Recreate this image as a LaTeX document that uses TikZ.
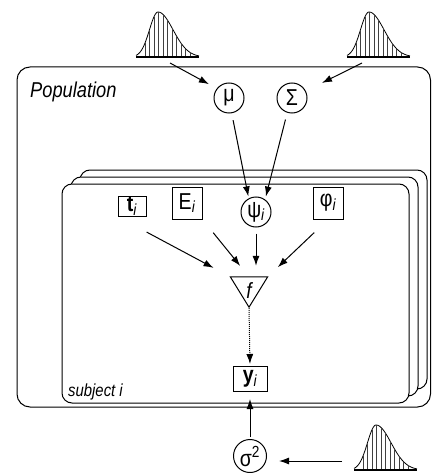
\documentclass[tikz,border=0pt]{standalone}
\usepackage{fontspec}
\setmainfont[FakeStretch=0.85]{Liberation Sans}
\usetikzlibrary{positioning,arrows.meta}
\tikzset{
  declare function={dens(\u)=(\u<22)*45*exp(-0.5*((\u-22)/8.5)^2)+(\u>=22)*45*exp(-0.5*((\u-22)/15)^2);},
  var/.style={draw,circle,line width=1pt,minimum size=30pt,inner sep=0pt,font=\fontsize{23}{26}\selectfont},
  obs/.style={draw,rectangle,line width=1pt,inner sep=0pt,font=\fontsize{23}{26}\selectfont},
  plate/.style={draw,line width=1pt,rounded corners=10pt,fill=white},
  link/.style={->,line width=1pt},
  prior/.pic={
    \draw[line width=0.8pt] plot[domain=0:63,samples=70,smooth] (\x,{-dens(\x)});
    \foreach \u in {9,13.5,...,58}
      \draw[line width=0.5pt,black!75] (\u,0) -- (\u,{-dens(\u)});
    \draw[line width=1.2pt] (0,0) -- (63,0);
  }
}
\begin{document}
\begin{tikzpicture}[x=1pt,y=-1pt,>={Latex[length=10pt,width=7pt]}]
  \useasboundingbox (0,0) rectangle (431,473);
  % plates
  \draw[plate,rounded corners=13pt] (17,67) rectangle (430.5,407);
  \draw[plate] (80,170) rectangle (427,389);
  \draw[plate] (71,177) rectangle (418,396);
  \draw[plate] (62,184) rectangle (409,403);
  \node[anchor=base west,inner sep=0pt,font=\fontsize{21.5}{25}\selectfont\itshape] (poplabel) at (30,98) {Population};
  \node[anchor=base west,inner sep=0pt,font=\fontsize{17.5}{20}\selectfont\itshape] (sublabel) at (68,396) {subject i};
  % priors
  \pic at (136,57) {prior};
  \pic at (347,57) {prior};
  \pic at (354,470) {prior};
  \coordinate (pmu) at (170,63);
  \coordinate (pSigma) at (362,63);
  \coordinate (psig) at (342,461);
  % nodes
  \node[var] (mu) at (229,98) {μ};
  \node[var] (Sigma) at (292,98) {Σ};
  \node[var] (psi) at (256,212) {ψ\textsubscript{\itshape i}};
  \node[obs,minimum width=28pt,minimum height=20pt] (t) at (132,206) {\textbf{t}\textsubscript{\itshape i}};
  \node[obs,minimum width=30pt,minimum height=32pt] (E) at (187,203) {E\textsubscript{\itshape i}};
  \node[obs,minimum width=30pt,minimum height=32pt] (phi) at (328,203) {φ\textsubscript{\itshape i}};
  \node[minimum width=37pt,minimum height=30pt,inner sep=0pt,font=\fontsize{22}{25}\selectfont\itshape] (f) at (249,292) {\raisebox{3pt}{f}};
  \draw[line width=1pt] (f.north west) -- (f.north east) -- (f.south) -- cycle;
  \node[obs,minimum width=34pt,minimum height=25pt] (y) at (250,379) {\textbf{y}\textsubscript{\itshape i}};
  \node[var,minimum size=33pt] (sigma) at (250,456) {σ\textsuperscript{2}};
  % connectors
  \draw[link,shorten >=9pt] (pmu) -- (mu.142);
  \draw[link,shorten >=18pt] (pSigma) -- (Sigma.27);
  \draw[link,shorten <=7pt,shorten >=2pt] (mu.-80) -- (psi.118);
  \draw[link,shorten <=7pt,shorten >=3pt] (Sigma.-108) -- (psi.54);
  \draw[link,shorten <=33pt,shorten >=19pt] (t.south west) -- (f.north west);
  \draw[link,shorten <=17pt,shorten >=14pt] (E.south east) -- (f.north);
  \draw[link,shorten <=6pt,shorten >=11pt] (psi.south) -- (psi.south |- f.north);
  \draw[link,shorten <=19pt,shorten >=14pt] (phi.south) -- (f.north east);
  \draw[link,densely dotted,shorten <=1pt,shorten >=2pt] (f.south) -- (y.north);
  \draw[link,shorten <=2pt,shorten >=7pt] (sigma.north) -- (y.south);
  \draw[link,shorten >=12pt] (psig) -- (psig -| sigma.east);
\end{tikzpicture}
\end{document}
